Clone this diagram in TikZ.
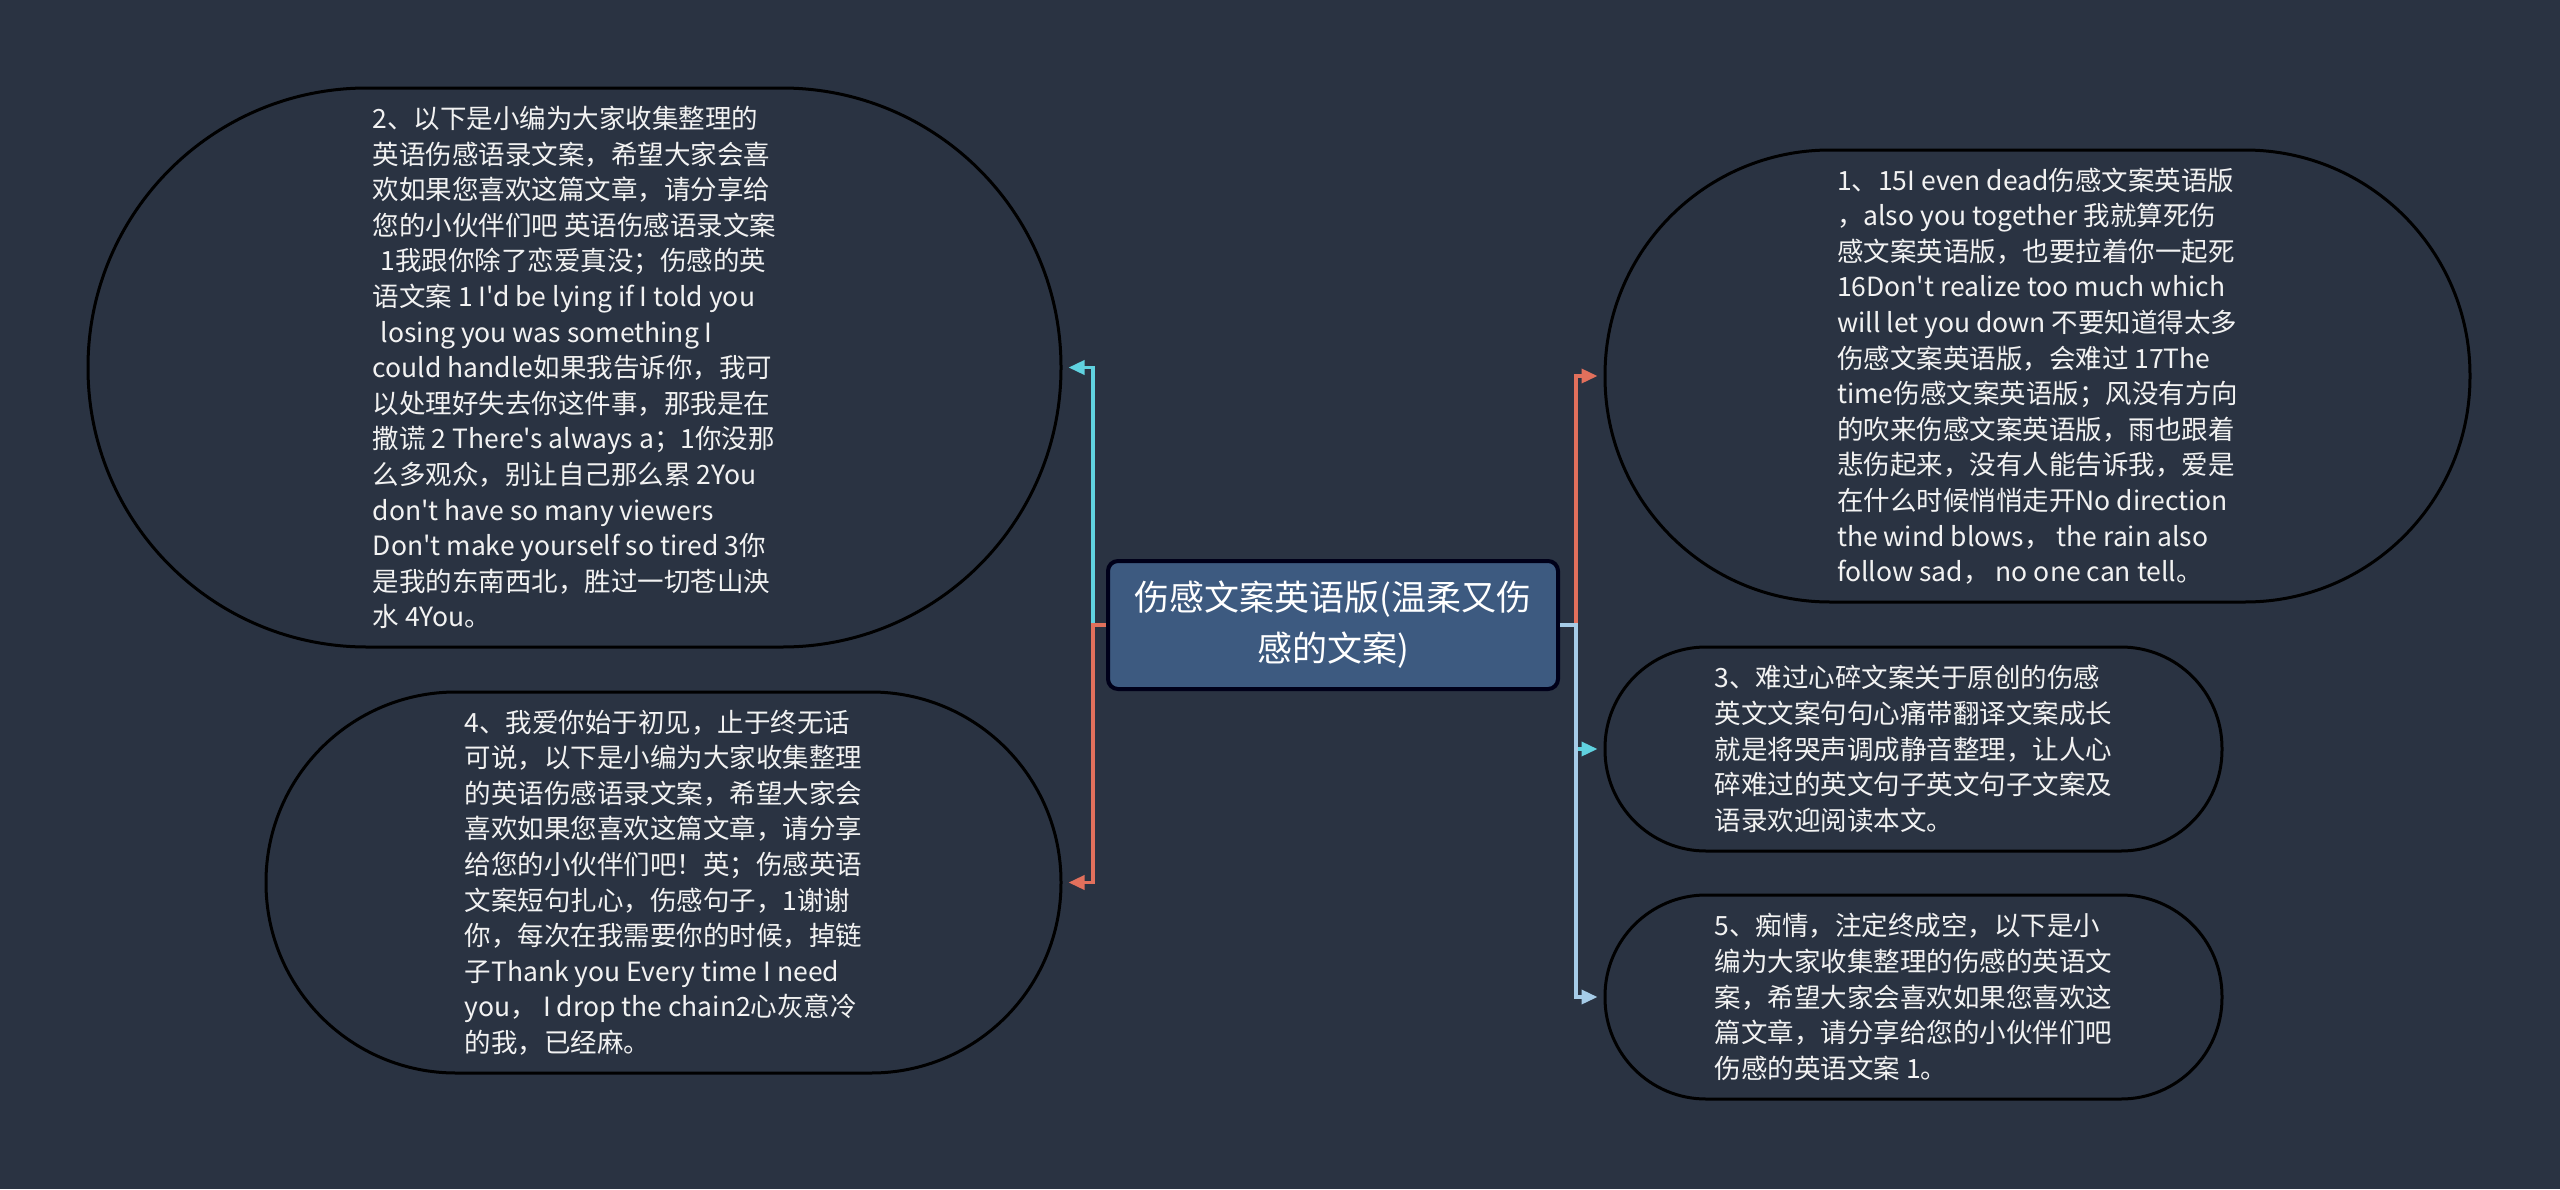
\documentclass[tikz,border=0pt]{standalone}
\usepackage{fontspec}
\setmainfont{Noto Sans CJK SC}[Ligatures=TeXOff]
\usetikzlibrary{arrows.meta}

\definecolor{bgdark}{RGB}{42,51,66}
\definecolor{rootblue}{RGB}{61,90,128}
\definecolor{linecyan}{RGB}{96,210,224}
\definecolor{lineorange}{RGB}{226,112,92}
\definecolor{linelight}{RGB}{166,204,232}

\begin{document}
\begin{tikzpicture}[x=1pt, y=-1pt,
  bubble/.style={draw=black, line width=3pt, align=left, text=white!95!black,
    font=\fontsize{26.5pt}{35.6pt}\selectfont, inner sep=0pt},
  rootbox/.style={draw=black!90!blue, line width=4pt, fill=rootblue, rounded corners=10pt,
    align=center, text=white, font=\fontsize{35pt}{51pt}\selectfont,
    minimum width=450pt, minimum height=128pt},
  link/.style={line width=3.5pt, -{Triangle[length=16pt,width=14pt]}, shorten >=6pt}]

\path[use as bounding box, fill=bgdark] (0,0) rectangle (2560,1189);

\node[rootbox] (root) at (1333,625) {伤感文案英语版(温柔又伤\\感的文案)};

% left side
\node[bubble, minimum width=973pt, minimum height=559pt, rounded corners=279pt] (item2) at (574.5,367.5)
{2、以下是小编为大家收集整理的\\
英语伤感语录文案，希望大家会喜\\
欢如果您喜欢这篇文章，请分享给\\
您的小伙伴们吧 英语伤感语录文案\\
\hspace*{.3em}1我跟你除了恋爱真没；伤感的英\\
语文案 1 I'd be lying if I told you\\
\hspace*{.3em}losing you was something I\\
could handle如果我告诉你，我可\\
以处理好失去你这件事，那我是在\\
撒谎 2 There's always a；1你没那\\
么多观众，别让自己那么累 2You\\
don't have so many viewers\\
Don't make yourself so tired 3你\\
是我的东南西北，胜过一切苍山泱\\
水 4You。};

\node[bubble, minimum width=795pt, minimum height=381pt, rounded corners=190pt] (item4) at (663.5,882.5)
{4、我爱你始于初见，止于终无话\\
可说，以下是小编为大家收集整理\\
的英语伤感语录文案，希望大家会\\
喜欢如果您喜欢这篇文章，请分享\\
给您的小伙伴们吧！英；伤感英语\\
文案短句扎心，伤感句子，1谢谢\\
你，每次在我需要你的时候，掉链\\
子Thank you Every time I need\\
you， I drop the chain2心灰意冷\\
的我，已经麻。};

% right side
\node[bubble, minimum width=865pt, minimum height=452pt, rounded corners=225pt] (item1) at (2037.5,376)
{1、15I even dead伤感文案英语版\\
，also you together 我就算死伤\\
感文案英语版，也要拉着你一起死\\
16Don't realize too much which\\
will let you down 不要知道得太多\\
伤感文案英语版，会难过 17The\\
time伤感文案英语版；风没有方向\\
的吹来伤感文案英语版，雨也跟着\\
悲伤起来，没有人能告诉我，爱是\\
在什么时候悄悄走开No direction\\
the wind blows， the rain also\\
follow sad， no one can tell。};

\node[bubble, minimum width=617pt, minimum height=204pt, rounded corners=101pt] (item3) at (1913.5,749)
{3、难过心碎文案关于原创的伤感\\
英文文案句句心痛带翻译文案成长\\
就是将哭声调成静音整理，让人心\\
碎难过的英文句子英文句子文案及\\
语录欢迎阅读本文。};

\node[bubble, minimum width=617pt, minimum height=204pt, rounded corners=101pt] (item5) at (1913.5,997)
{5、痴情，注定终成空，以下是小\\
编为大家收集整理的伤感的英语文\\
案，希望大家会喜欢如果您喜欢这\\
篇文章，请分享给您的小伙伴们吧\\
伤感的英语文案 1。};

\draw[link, linecyan](root.west) -- ++(-13,0) |- (item2.east);
\draw[link, lineorange](root.west) -- ++(-13,0) |- (item4.east);

\draw[link, linecyan](root.east) -- ++(16,0) |- (item3.west);
\draw[link, lineorange](root.east) -- ++(16,0) |- (item1.west);
\draw[link, linelight](root.east) -- ++(16,0) |- (item5.west);

\end{tikzpicture}
\end{document}
